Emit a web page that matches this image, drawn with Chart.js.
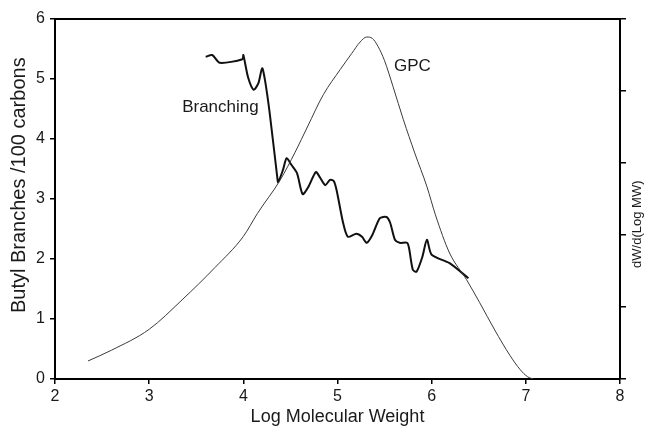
<!DOCTYPE html>
<html>
<head>
<meta charset="utf-8">
<script src="https://cdn.jsdelivr.net/npm/chart.js@4.4.1/dist/chart.umd.min.js"></script>
<style>
	html, body { margin: 0; padding: 0; background: #fff; }
	canvas { display: block; }
</style>
</head>
<body>
<canvas id="graficoRamificacao" width="647" height="429"></canvas>
<script>
// GPC (eixo da direita, dW/d(Log MW))
var logMwGpc = [2.35, 2.60, 3.00, 3.35, 3.70, 4.00, 4.15, 4.39, 4.55, 4.68, 4.85, 5.03, 5.15, 5.24, 5.31, 5.37, 5.43, 5.50, 5.59, 5.70, 5.82, 5.95, 6.04, 6.19, 6.37, 6.51, 6.67, 6.83, 6.94, 7.02, 7.08];
var valoresGpc = [0.25, 0.40, 0.69, 1.10, 1.55, 1.98, 2.30, 2.76, 3.15, 3.50, 3.95, 4.30, 4.52, 4.68, 4.75, 4.73, 4.62, 4.42, 4.06, 3.60, 3.14, 2.67, 2.28, 1.75, 1.38, 1.06, 0.68, 0.33, 0.13, 0.03, 0.00];

// Ramificacao (eixo da esquerda, butil /100 carbonos)
var logMwRamificacao = [3.60, 3.67, 3.75, 3.99, 4.00, 4.05, 4.11, 4.16, 4.20, 4.23, 4.28, 4.36, 4.37, 4.42, 4.46, 4.51, 4.57, 4.63, 4.69, 4.77, 4.81, 4.87, 4.92, 4.96, 4.99, 5.06, 5.11, 5.20, 5.26, 5.31, 5.37, 5.45, 5.52, 5.56, 5.61, 5.66, 5.74, 5.76, 5.80, 5.84, 5.90, 5.95, 6.00, 6.19, 6.39];
var valoresRamificacao = [5.37, 5.40, 5.27, 5.33, 5.40, 5.03, 4.82, 4.93, 5.18, 4.98, 4.43, 3.37, 3.28, 3.48, 3.68, 3.57, 3.43, 3.08, 3.20, 3.45, 3.37, 3.23, 3.32, 3.30, 3.15, 2.60, 2.37, 2.42, 2.37, 2.27, 2.40, 2.68, 2.70, 2.60, 2.32, 2.27, 2.27, 2.18, 1.82, 1.79, 2.03, 2.32, 2.07, 1.93, 1.68];

var ticksX = [2, 3, 4, 5, 6, 7, 8];
var ticksY = [0, 1, 2, 3, 4, 5, 6];
var ticksY2 = [0, 1, 2, 3, 4, 5];

var tituloX = 'Log Molecular Weight';
var tituloY = 'Butyl Branches /100 carbons';
var tituloY2 = 'dW/d(Log MW)';
var rotuloRamificacao = 'Branching';
var rotuloGpc = 'GPC';

var Grafico = Grafico || {};

Grafico.Ramificacao = (function() {

	var FONTE = '"Liberation Sans", Arial, sans-serif';

	function Ramificacao() {
		this.ctx = document.getElementById('graficoRamificacao').getContext('2d');
	}

	function pontos(xs, ys) {
		return xs.map(function(x, i) {
			return { x: x, y: ys[i] };
		});
	}

	function fixarTicks(lista) {
		return function(escala) {
			escala.ticks = lista.map(function(v) { return { value: v }; });
		};
	}

	// rotulos soltos e titulos dos eixos verticais
	var pluginTextos = {
		id: 'textos',
		afterDraw: function(chart) {
			var ctx = chart.ctx;
			var x = chart.scales.x, y = chart.scales.y, y2 = chart.scales.y2;
			ctx.save();
			ctx.fillStyle = '#1a1a1a';
			ctx.textBaseline = 'alphabetic';
			ctx.textAlign = 'left';
			ctx.font = '17px ' + FONTE;
			ctx.fillText(rotuloRamificacao, x.getPixelForValue(3.35), y.getPixelForValue(4.45));
			ctx.fillText(rotuloGpc, x.getPixelForValue(5.60), y.getPixelForValue(5.14));

			ctx.textAlign = 'center';
			ctx.textBaseline = 'middle';
			ctx.save();
			ctx.translate(19, y.getPixelForValue(3.23));
			ctx.rotate(-Math.PI / 2);
			ctx.font = '20px ' + FONTE;
			ctx.fillText(tituloY, 0, 0);
			ctx.restore();

			ctx.save();
			ctx.translate(637, y2.getPixelForValue(2.15));
			ctx.rotate(-Math.PI / 2);
			ctx.font = '13px ' + FONTE;
			ctx.fillText(tituloY2, 0, 0);
			ctx.restore();
			ctx.restore();
		}
	};

	Ramificacao.prototype.iniciar = function() {
		Chart.defaults.font.family = FONTE;
		Chart.defaults.color = '#1a1a1a';

		new Chart(this.ctx, {
			type: 'scatter',
			data: {
				datasets: [{
					label: 'GPC',
					data: pontos(logMwGpc, valoresGpc),
					yAxisID: 'y2',
					showLine: true,
					borderColor: '#3a3a3a',
					borderWidth: 1,
					pointRadius: 0,
					cubicInterpolationMode: 'monotone'
				},
				{
					label: 'Branching',
					data: pontos(logMwRamificacao, valoresRamificacao),
					yAxisID: 'y',
					showLine: true,
					borderColor: '#111',
					borderWidth: 2,
					pointRadius: 0,
					tension: 0.25
				}]
			},
			options: {
				responsive: false,
				animation: false,
				devicePixelRatio: 1,
				layout: { padding: 0 },
				plugins: {
					legend: { display: false },
					tooltip: { enabled: false }
				},
				scales: {
					x: {
						type: 'linear',
						position: 'bottom',
						min: 2,
						max: 8,
						afterBuildTicks: fixarTicks(ticksX),
						afterFit: function(escala) { escala.height = 50; },
						grid: { drawOnChartArea: false, drawTicks: true, tickLength: 5, color: '#000', lineWidth: 1.5 },
						border: { color: '#000', width: 2 },
						ticks: { font: { size: 16 }, padding: 3, maxRotation: 0 },
						title: { display: true, text: tituloX, font: { size: 18 }, padding: { top: 0, bottom: 1 } }
					},
					xTopo: {
						type: 'linear',
						position: 'top',
						min: 2,
						max: 8,
						afterFit: function(escala) { escala.height = 19; },
						grid: { display: false },
						border: { color: '#000', width: 2 },
						ticks: { display: false }
					},
					y: {
						type: 'linear',
						position: 'left',
						min: 0,
						max: 6,
						afterBuildTicks: fixarTicks(ticksY),
						afterFit: function(escala) { escala.width = 55; },
						grid: { drawOnChartArea: false, drawTicks: true, tickLength: 5, color: '#000', lineWidth: 1.5 },
						border: { color: '#000', width: 2 },
						ticks: { font: { size: 16 }, padding: 5 }
					},
					y2: {
						type: 'linear',
						position: 'right',
						min: 0,
						max: 5,
						afterBuildTicks: fixarTicks(ticksY2),
						afterFit: function(escala) { escala.width = 27; },
						grid: { drawOnChartArea: false, drawTicks: true, tickLength: 6, color: '#000', lineWidth: 1.5 },
						border: { color: '#000', width: 2 },
						ticks: { callback: function() { return ''; } }
					}
				}
			},
			plugins: [pluginTextos]
		});
	};

	return Ramificacao;

}());

var graficoRamificacao = new Grafico.Ramificacao();
graficoRamificacao.iniciar();
</script>
</body>
</html>
